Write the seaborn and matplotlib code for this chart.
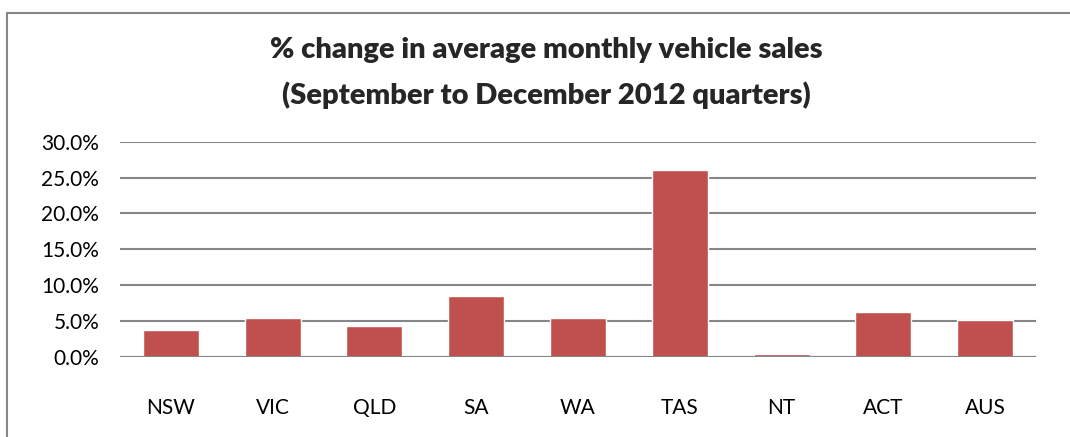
import pandas as pd
import seaborn as sns
import matplotlib.pyplot as plt
from matplotlib.lines import Line2D
from matplotlib.ticker import PercentFormatter

regions = ["NSW", "VIC", "QLD", "SA", "WA", "TAS", "NT", "ACT", "AUS"]
pct_change = [3.7, 5.4, 4.3, 8.5, 5.4, 26.0, 0.4, 6.2, 5.1]
y_ticks = [0, 5, 10, 15, 20, 25, 30]

df = pd.DataFrame({"region": regions, "change": pct_change})

sns.set_style("white")
plt.rcParams["font.family"] = ["Lato", "DejaVu Sans"]

W, H = 1070, 437
fig = plt.figure(figsize=(W / 100, H / 100), dpi=100)
ax = fig.add_axes([120 / W, 1 - 356.7 / H, (1036 - 120) / W, (356.7 - 141.7) / H])

sns.barplot(df, x="region", y="change", color="#C0504D", saturation=1,
            width=0.55, ax=ax, zorder=3)

ax.set_ylim(0, 30)
ax.set_yticks(y_ticks)
ax.yaxis.set_major_formatter(PercentFormatter(decimals=1))
ax.set_xlim(-0.5, len(regions) - 0.5)
ax.grid(axis="y", color="#868686", linewidth=1.5, zorder=0)
ax.set_axisbelow(True)
for s in ax.spines.values():
    s.set_visible(False)
ax.axhline(0, color="#868686", linewidth=1.5, zorder=4)
ax.set_xlabel("")
ax.set_ylabel("")
ax.tick_params(axis="both", length=0, labelsize=15, colors="black")
ax.tick_params(axis="y", pad=15)
ax.tick_params(axis="x", pad=30)

fig.text(546 / W, 1 - 50 / H, "% change in average monthly vehicle sales",
         ha="center", va="center", fontsize=21, fontweight="heavy")
fig.text(546 / W, 1 - 95 / H, "(September to December 2012 quarters)",
         ha="center", va="center", fontsize=21, fontweight="heavy")

# outer chart frame
fig.add_artist(Line2D([6.5 / W, 1], [1 - 12.5 / H, 1 - 12.5 / H],
                      transform=fig.transFigure, color="#868686", linewidth=1.5))
fig.add_artist(Line2D([6.5 / W, 6.5 / W], [1 - 12.5 / H, 0],
                      transform=fig.transFigure, color="#868686", linewidth=1.5))

fig.savefig("out.png", dpi=100)
